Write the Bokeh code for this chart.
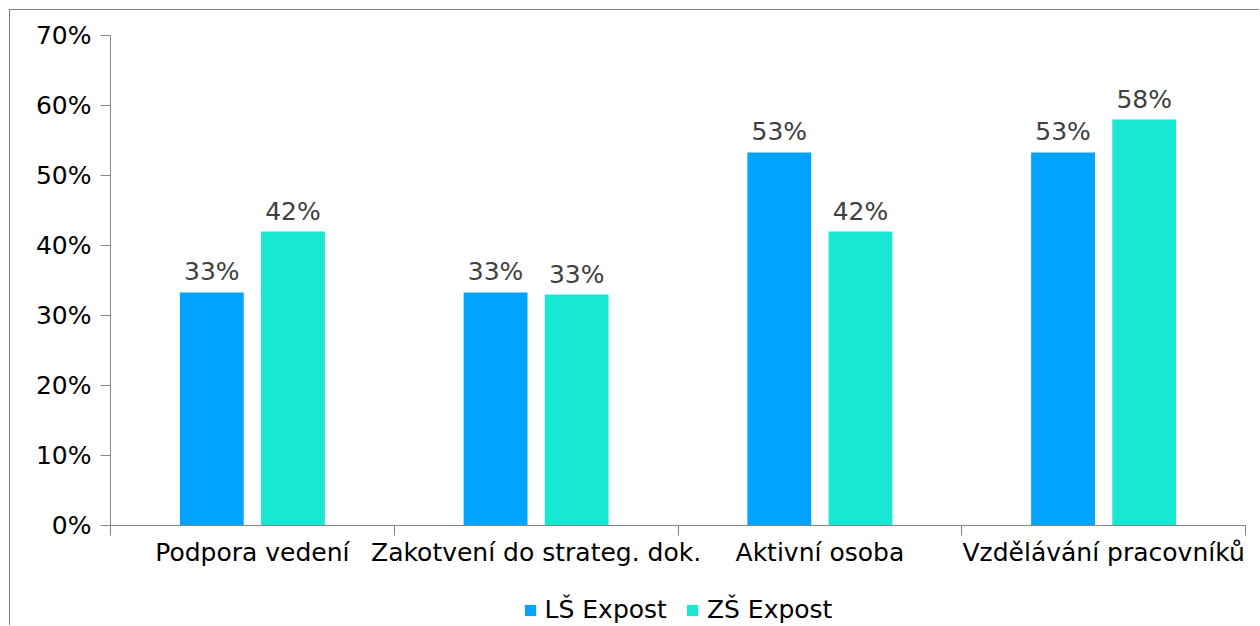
from bokeh.plotting import figure
from bokeh.models import (ColumnDataSource, Range1d, FixedTicker, NumeralTickFormatter,
                          Legend, LegendItem)
from bokeh.transform import dodge
from bokeh.core.properties import value
from bokeh.embed import file_html
from bokeh.resources import INLINE

categories = ["Podpora vedení", "Zakotvení do strateg. dok.", "Aktivní osoba", "Vzdělávání pracovníků"]
ls_expost = [0.333, 0.333, 0.533, 0.533]
zs_expost = [0.42, 0.33, 0.42, 0.58]
series_names = ["LŠ Expost", "ZŠ Expost"]
y_ticks = [0, 0.1, 0.2, 0.3, 0.4, 0.5, 0.6, 0.7]

FONT = "DejaVu Sans"
FS = "25px"
C_LS = "#00a3ff"
C_ZS = "#18e8d2"
AXIS = "#858585"

pos = [i + 0.5 for i in range(len(categories))]
src = ColumnDataSource(dict(
    x=pos, ls=ls_expost, zs=zs_expost,
    ls_lbl=[f"{round(v*100)}%" for v in ls_expost],
    zs_lbl=[f"{round(v*100)}%" for v in zs_expost],
))

p = figure(frame_width=1135, frame_height=490,
           output_backend="svg", toolbar_location=None,
           x_range=Range1d(0, len(categories)), y_range=Range1d(0, 0.7),
           min_border_left=100, min_border_top=25, min_border_right=14)
p.styles = {"margin-left": "9px", "margin-top": "9px",
            "border-top": "1px solid #7f7f7f", "border-left": "1px solid #7f7f7f",
            "width": "1250px", "height": "616px"}
p.outline_line_color = None
p.xgrid.grid_line_color = None
p.ygrid.grid_line_color = None

off = 0.143
w = 0.225
r1 = p.vbar(x=dodge("x", -off), top="ls", width=w, source=src, fill_color=C_LS, line_color=None)
r2 = p.vbar(x=dodge("x", off), top="zs", width=w, source=src, fill_color=C_ZS, line_color=None)

for col, lbl, o in (("ls", "ls_lbl", -off), ("zs", "zs_lbl", off)):
    p.text(x=dodge("x", o), y=col, text=lbl, source=src, text_align="center",
           text_baseline="bottom", y_offset=-6, text_font=value(FONT),
           text_font_size=FS, text_color="#404040")

# y axis
ya = p.yaxis[0]
ya.ticker = FixedTicker(ticks=y_ticks)
ya.formatter = NumeralTickFormatter(format="0%")
ya.axis_line_color = AXIS
ya.major_tick_line_color = AXIS
ya.major_tick_out = 10
ya.major_tick_in = 0
ya.minor_tick_line_color = None
ya.major_label_standoff = 9
ya.major_label_text_font = FONT
ya.major_label_text_font_size = FS
ya.major_label_text_color = "#000000"

# x axis: labels at category centres, tick marks at category boundaries
xa = p.xaxis[0]
xa.ticker = FixedTicker(ticks=pos, minor_ticks=list(range(len(categories) + 1)))
xa.major_label_overrides = {p_: c for p_, c in zip(pos, categories)}
xa.axis_line_color = AXIS
xa.major_tick_line_color = None
xa.major_tick_out = 10
xa.major_tick_in = 0
xa.minor_tick_line_color = AXIS
xa.minor_tick_out = 10
xa.minor_tick_in = 0
xa.major_label_standoff = 2
xa.major_label_text_font = FONT
xa.major_label_text_font_size = FS
xa.major_label_text_color = "#000000"

# blank title only adds vertical space above the items, keeping the legend inside the window
legend = Legend(items=[LegendItem(label=series_names[0], renderers=[r1]),
                       LegendItem(label=series_names[1], renderers=[r2])],
                orientation="horizontal", location="center",
                title=" ", title_text_font_size="10px", title_standoff=10,
                glyph_width=14, glyph_height=14, label_standoff=8, spacing=18,
                label_text_font=FONT, label_text_font_size=FS, label_text_color="#000000",
                border_line_color=None, background_fill_alpha=0, padding=2, margin=0)
p.add_layout(legend, "below")

open("out.html", "w").write(file_html(p, INLINE))
